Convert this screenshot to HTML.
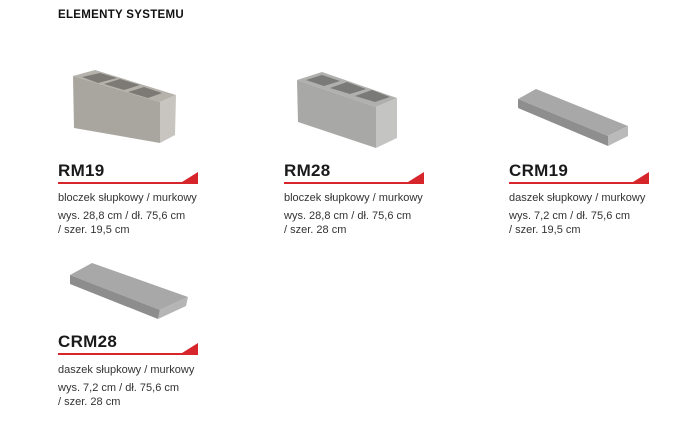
<!DOCTYPE html>
<html><head><meta charset="utf-8"><style>
body{margin:0;width:689px;height:444px;background:#fff;position:relative;font-family:"Liberation Sans",sans-serif;color:#222;overflow:hidden}
.t{position:absolute;font-size:11.5px;font-weight:bold;color:#111;letter-spacing:0.3px}
.h{position:absolute;font-size:17px;font-weight:bold;color:#1a1a1a;letter-spacing:0.3px}
.d{position:absolute;font-size:11px;color:#333;line-height:14px}
svg{position:absolute;left:0;top:0}
</style></head><body>
<div class="t" style="left:58px;top:9px">ELEMENTY SYSTEMU</div>
<svg width="689" height="444">
<!-- RM19 -->
<polygon points="73,76 95,70 176,95 160,102" fill="#b5b2ac"/>
<polygon points="82,77 100,73 117,78 98,83" fill="#7d7a75"/>
<polygon points="104,84 120,79 140,85 124,90" fill="#7d7a75"/>
<polygon points="128,92 144,87 162,93 148,98" fill="#7d7a75"/>
<polygon points="73,76 160,102 160,143 74,128" fill="#a9a69f"/>
<polygon points="160,102 176,95 175,135 160,143" fill="#c8c5c0"/>
<!-- RM28 -->
<polygon points="297,80 322,72 397,98 376,107" fill="#b0b0ae"/>
<polygon points="306,80 322,75 340,81 324,86" fill="#7a7a78"/>
<polygon points="330,88 347,82 366,89 350,94" fill="#7a7a78"/>
<polygon points="355,96 372,90 390,97 375,102" fill="#7a7a78"/>
<polygon points="297,80 376,107 376,148 298,122" fill="#a8a8a6"/>
<polygon points="376,107 397,98 397,138 376,148" fill="#c4c4c2"/>
<!-- CRM19 -->
<polygon points="518,99 536,89 628,126 608,136" fill="#a8a8a8"/>
<polygon points="518,99 608,136 608,146 518,108" fill="#8e8e8e"/>
<polygon points="608,136 628,126 628,136 608,146" fill="#bababa"/>
<!-- CRM28 -->
<polygon points="70,275 92,263 188,297 160,310" fill="#a8a8a8"/>
<polygon points="70,275 160,310 158,319 70,284" fill="#8d8d8d"/>
<polygon points="160,310 188,297 186,306 158,319" fill="#b5b5b5"/>
<!-- red lines -->
<g fill="#d6262b">
<rect x="58" y="182" width="140" height="2"/><polygon points="182,182 198,172 198,184 182,184"/>
<rect x="284" y="182" width="140" height="2"/><polygon points="408,182 424,172 424,184 408,184"/>
<rect x="509" y="182" width="140" height="2"/><polygon points="633,182 649,172 649,184 633,184"/>
<rect x="58" y="353" width="140" height="2"/><polygon points="182,353 198,343 198,355 182,355"/>
</g>
</svg>
<div class="h" style="left:58px;top:161px">RM19</div>
<div class="d" style="left:58px;top:191px">bloczek słupkowy / murkowy</div>
<div class="d" style="left:58px;top:209px">wys. 28,8 cm / dł. 75,6 cm<br>/ szer. 19,5 cm</div>
<div class="h" style="left:284px;top:161px">RM28</div>
<div class="d" style="left:284px;top:191px">bloczek słupkowy / murkowy</div>
<div class="d" style="left:284px;top:209px">wys. 28,8 cm / dł. 75,6 cm<br>/ szer. 28 cm</div>
<div class="h" style="left:509px;top:161px">CRM19</div>
<div class="d" style="left:509px;top:191px">daszek słupkowy / murkowy</div>
<div class="d" style="left:509px;top:209px">wys. 7,2 cm / dł. 75,6 cm<br>/ szer. 19,5 cm</div>
<div class="h" style="left:58px;top:332px">CRM28</div>
<div class="d" style="left:58px;top:363px">daszek słupkowy / murkowy</div>
<div class="d" style="left:58px;top:381px">wys. 7,2 cm / dł. 75,6 cm<br>/ szer. 28 cm</div>
</body></html>
